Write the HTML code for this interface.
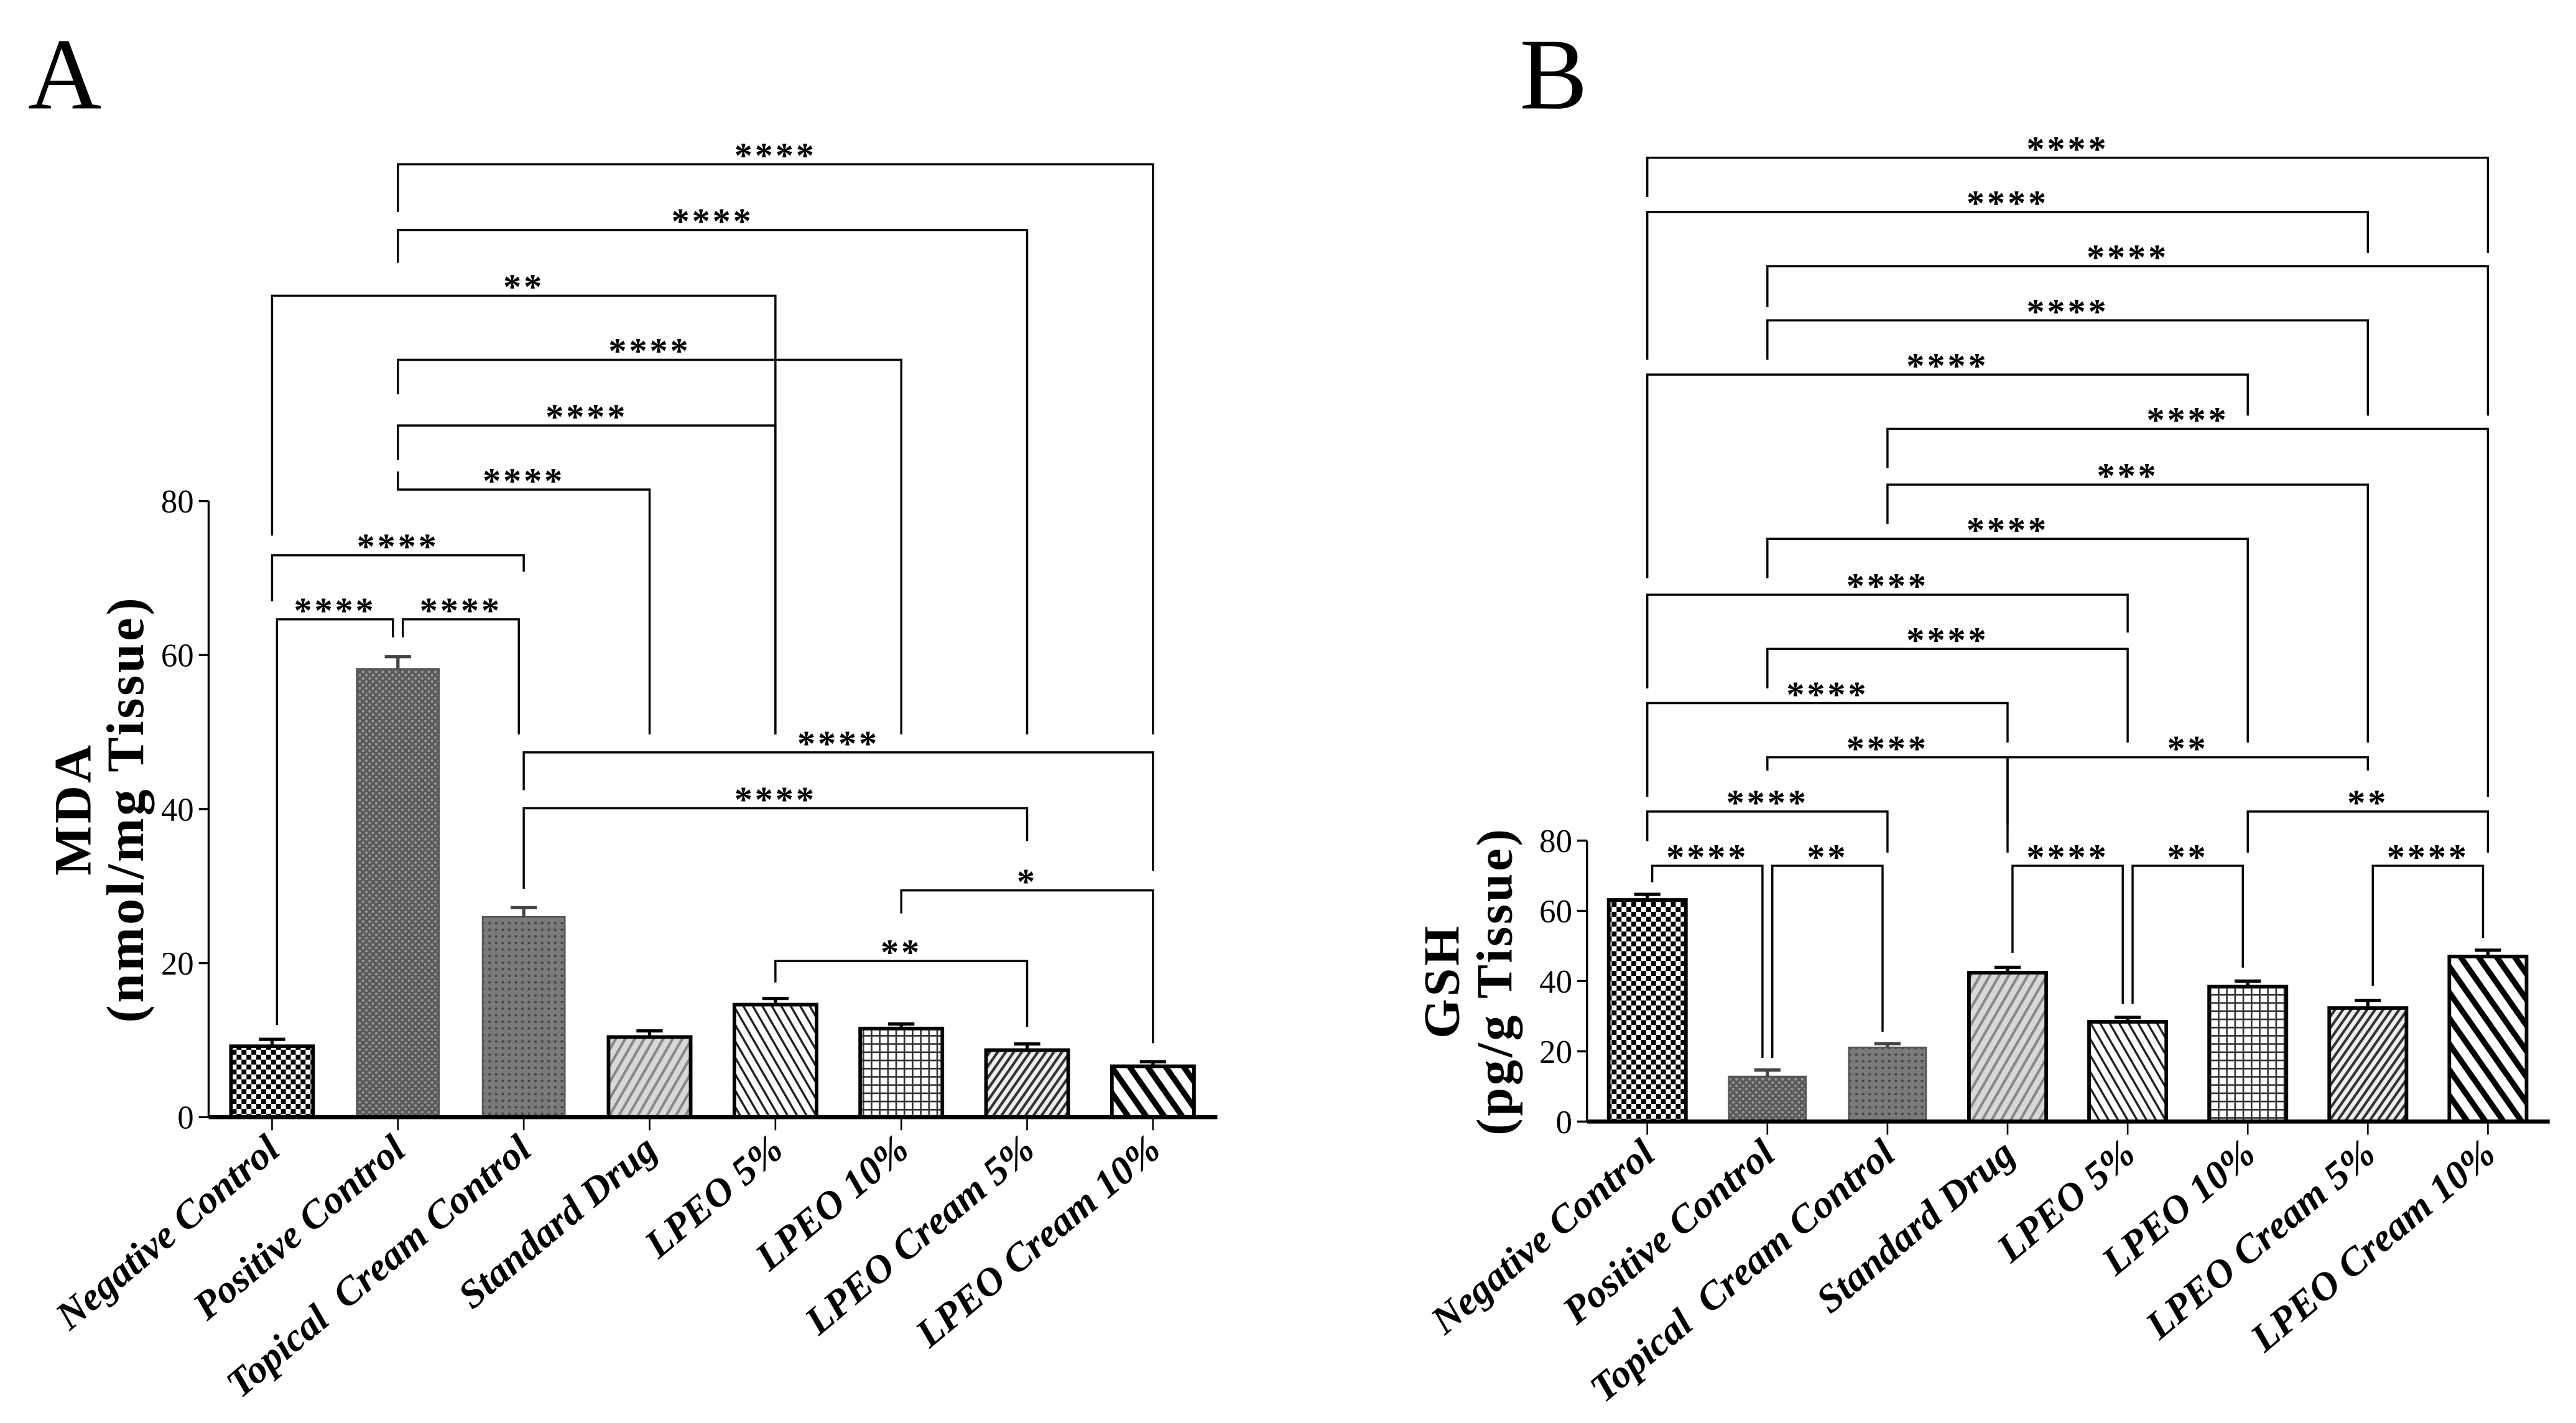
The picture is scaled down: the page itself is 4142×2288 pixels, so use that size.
<!DOCTYPE html>
<html><head><meta charset="utf-8">
<style>
html,body{margin:0;padding:0;background:#fff;}
svg{display:block;}
text{font-family:"Liberation Serif",serif;white-space:pre;}
</style></head>
<body>
<svg id="fig" xmlns="http://www.w3.org/2000/svg" width="4142" height="2288" viewBox="0 0 1568 866.2" preserveAspectRatio="none">
<defs>
  <pattern id="pNeg" width="6" height="6" patternUnits="userSpaceOnUse"><rect width="6" height="6" fill="#fff"/><rect width="3" height="3" fill="#000"/><rect x="3" y="3" width="3" height="3" fill="#000"/></pattern>
  <pattern id="pPos" width="4" height="4" patternUnits="userSpaceOnUse"><rect width="4" height="4" fill="#5a5a5a"/><circle cx="1" cy="1" r="0.8" fill="#9a9a9a"/><circle cx="3" cy="3" r="0.8" fill="#9a9a9a"/></pattern>
  <pattern id="pTop" width="4" height="4" patternUnits="userSpaceOnUse"><rect width="4" height="4" fill="#7a7a7a"/><circle cx="2" cy="2" r="0.8" fill="#444"/></pattern>
  <pattern id="pStd" width="5" height="5" patternUnits="userSpaceOnUse" patternTransform="rotate(30)"><rect width="5" height="5" fill="#d8d8d8"/><rect width="1.6" height="5" fill="#888"/></pattern>
  <pattern id="p5" width="5" height="5" patternUnits="userSpaceOnUse" patternTransform="rotate(-30)"><rect width="5" height="5" fill="#fff"/><rect width="1.3" height="5" fill="#222"/></pattern>
  <pattern id="p10" width="5" height="5" patternUnits="userSpaceOnUse"><rect width="5" height="5" fill="#fff"/><rect width="1" height="5" fill="#333"/><rect width="5" height="1" fill="#333"/></pattern>
  <pattern id="pC5" width="4" height="4" patternUnits="userSpaceOnUse" patternTransform="rotate(35)"><rect width="4" height="4" fill="#eee"/><rect width="1.6" height="4" fill="#333"/></pattern>
  <pattern id="pC10" width="9" height="9" patternUnits="userSpaceOnUse" patternTransform="rotate(-35)"><rect width="9" height="9" fill="#fff"/><rect width="3.5" height="9" fill="#000"/></pattern>
</defs>
<text x="17" y="66" font-size="62">A</text>
<text x="925" y="66" font-size="62">B</text>
<g id="gA"></g>
<g id="gB"></g>
</svg>
<script>
const categories = ["Negative Control","Positive Control","Topical  Cream Control","Standard Drug","LPEO 5%","LPEO 10%","LPEO Cream 5%","LPEO Cream 10%"];
const mdaValues = [9.2, 58.2, 26.0, 10.4, 14.6, 11.5, 8.7, 6.6];
const mdaErrors = [0.9, 1.6, 1.2, 0.8, 0.8, 0.6, 0.8, 0.6];
const gshValues = [63.1, 12.8, 21.1, 42.4, 28.4, 38.4, 32.3, 47.0];
const gshErrors = [1.6, 1.9, 1.1, 1.5, 1.3, 1.6, 2.2, 1.8];
const yTicks = [0, 20, 40, 60, 80];
const tickLabels = ["0", "20", "40", "60", "80"];
// brackets: [fromIdx, toIdx, y, label, leftLegBottom, rightLegBottom]
const mdaBrackets = [
 [1,7,100,"****",129,447],[1,6,140,"****",160,447],[0,4,180,"**",326,447],
 [1,5,219,"****",240,447],[1,4,259,"****",280,447],[1,3,298,"****",287,447],
 [0,2,338,"****",366,348],[0,1,377,"****",624,388],[1,2,377,"****",388,447],
 [2,7,458,"****",481,530],[2,6,492,"****",541,512],[5,7,542,"*",556,635],[4,6,585,"**",598,625]
];
const gshBrackets = [
 [0,7,96,"****",120,154],[0,6,129,"****",219,154],[1,7,162,"****",187,253],
 [1,6,195,"****",219,253],[0,5,228,"****",352,253],[2,7,261,"****",285,485],
 [2,6,295,"***",319,452],[1,5,328,"****",352,452],[0,4,362,"****",419,385],
 [1,4,395,"****",419,452],[0,3,428,"****",485,452],[1,3,461,"****",469,519],
 [3,6,461,"**",502,469],[0,2,494,"****",512,519],[5,7,494,"**",519,519],
 [0,1,527,"****",537,644],[1,2,527,"**",644,628],[3,4,527,"****",580,611],
 [4,5,527,"**",611,589],[6,7,527,"****",600,571]
];
const fills = ["pNeg","pPos","pTop","pStd","p5","p10","pC5","pC10"];
const NS="http://www.w3.org/2000/svg";
function mk(parent, tag, attrs){const e=document.createElementNS(NS,tag);for(const k in attrs)e.setAttribute(k,attrs[k]);parent.appendChild(e);return e;}

function drawPanel(g, cfg){
  const xS = i => cfg.x0 + i*cfg.step;
  const yS = v => cfg.y0 - (v/80)*(cfg.y0-cfg.y80);
  let e = mk(g,"line",{x1:cfg.ax,x2:cfg.ax,y1:yS(0),y2:yS(80),stroke:"#000","stroke-width":1.3});
   
  yTicks.forEach((t,k)=>{
    const tl = mk(g,"line",{x1:cfg.ax-6,x2:cfg.ax,y1:yS(t),y2:yS(t),stroke:"#000","stroke-width":1.3});
     
    const tx = mk(g,"text",{x:cfg.ax-9,y:yS(t)+7,"font-size":20,"text-anchor":"end"});
    tx.textContent = tickLabels[k];
     
  });
  cfg.vals.forEach((v,i)=>{
    const cx=xS(i), w=cfg.bw;
    const gray = (i===1||i===2);
    const r = mk(g,"rect",{x:cx-w/2,y:yS(v),width:w,height:yS(0)-yS(v),fill:"url(#"+fills[i]+")",stroke:gray?"#555":"#000","stroke-width":gray?1:2.2});
     
    const top = yS(v+cfg.errs[i]);
    const el = mk(g,"path",{d:`M${cx},${yS(v)}V${top}M${cx-8},${top}H${cx+8}`,stroke:gray?"#444":"#000","stroke-width":2,fill:"none"});
     
    const xt = mk(g,"line",{x1:cx,x2:cx,y1:yS(0),y2:yS(0)+8,stroke:"#000","stroke-width":1});
     
    const lx = cx+6, ly = yS(0)+22;
    const lb = mk(g,"text",{x:lx,y:ly,"font-size":24,"font-style":"italic","font-weight":"bold","text-anchor":"end","xml:space":"preserve",transform:`rotate(-40 ${lx} ${ly})`});
    lb.textContent = categories[i];
     
  });
  e = mk(g,"line",{x1:cfg.ax,x2:cfg.xend,y1:yS(0),y2:yS(0),stroke:"#000","stroke-width":2.5});
   
  cfg.br.forEach(b=>{
    let x1=xS(b[0]), x2=xS(b[1]);
    if (b[1]-b[0]===1 && b[2]>=cfg.adjY){ x1+=3; x2-=3; }
    const y=b[2];
    const p = mk(g,"path",{d:`M${x1},${b[4]}V${y}H${x2}V${b[5]}`,stroke:"#000","stroke-width":1.3,fill:"none"});
     
    const t = mk(g,"text",{x:(x1+x2)/2,y:y+2,"font-size":22,"font-weight":"bold","text-anchor":"middle","letter-spacing":"1.5","font-family":"Liberation Sans, sans-serif"});
    t.textContent=b[3];
     
  });
  const ty = (yS(0)+yS(80))/2 + cfg.titleDy;
  const t1 = mk(g,"text",{x:cfg.tx1,y:ty,"font-size":cfg.tfs,"font-weight":"bold","text-anchor":"middle","letter-spacing":"1.5",transform:`rotate(-90 ${cfg.tx1} ${ty})`});
  t1.textContent = cfg.t1;
   
  const t2 = mk(g,"text",{x:cfg.tx2,y:ty,"font-size":cfg.tfs,"font-weight":"bold","text-anchor":"middle","letter-spacing":"1.5",transform:`rotate(-90 ${cfg.tx2} ${ty})`});
  t2.textContent = cfg.t2;
   
}
drawPanel(document.getElementById('gA'),{p:'mda',x0:165.6,step:76.6,bw:50,ax:127,xend:741,y0:680,y80:305,vals:mdaValues,errs:mdaErrors,br:mdaBrackets,adjY:370,tx1:55,tx2:87,tfs:32,t1:"MDA",t2:"(nmol/mg Tissue)",titleDy:0});
drawPanel(document.getElementById('gB'),{p:'gsh',x0:1002.7,step:73.1,bw:47,ax:966,xend:1552,y0:682.7,y80:511.7,vals:gshValues,errs:gshErrors,br:gshBrackets,adjY:520,tx1:888,tx2:920,tfs:31,t1:"GSH",t2:"(pg/g Tissue)",titleDy:0});
</script>
</body></html>
